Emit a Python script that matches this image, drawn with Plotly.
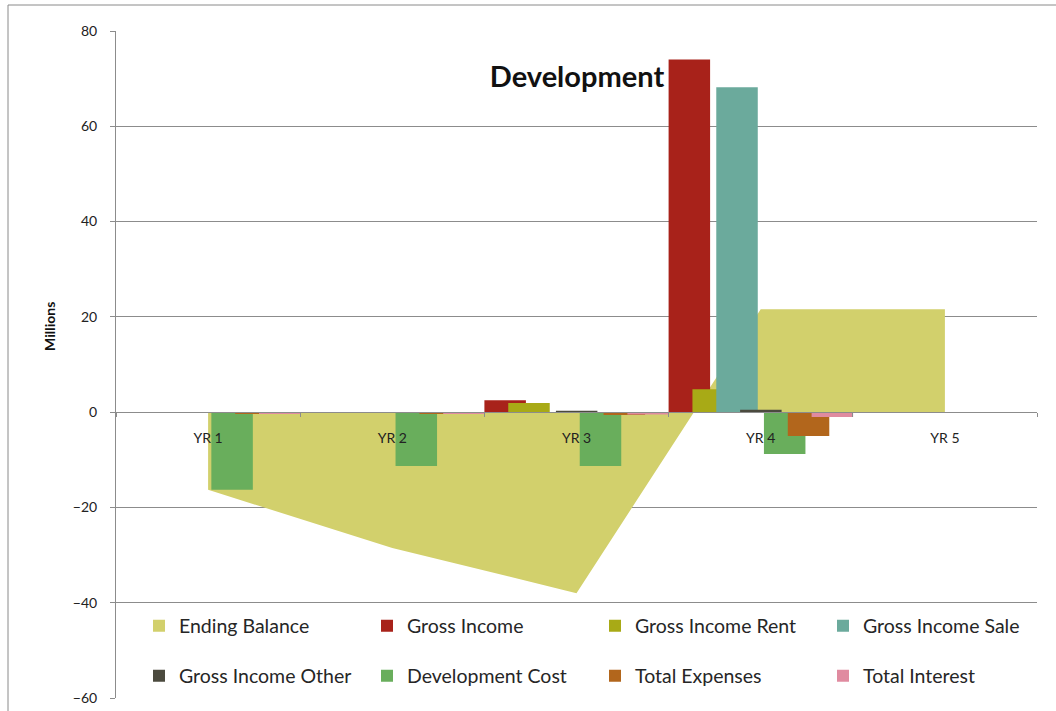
import plotly.graph_objects as go

# Project cash-flow summary by year (values in millions)
years = ["YR 1", "YR 2", "YR 3", "YR 4", "YR 5"]

ending_balance = [-16.3, -28.5, -38.0, 21.6, 21.6]
gross_income = [0, 0, 2.5, 74.0, 0]
gross_income_rent = [0, 0, 1.9, 4.8, 0]
gross_income_sale = [0, 0, 0, 68.2, 0]
gross_income_other = [0, 0, 0.3, 0.5, 0]
development_cost = [-16.3, -11.3, -11.3, -8.8, 0]
total_expenses = [-0.3, -0.3, -0.6, -5.0, 0]
total_interest = [-0.2, -0.3, -0.5, -1.0, 0]

y_ticks = [-60, -40, -20, 0, 20, 40, 60, 80]

AREA_COLOR = "#D2D06C"
bar_series = [
    ("Gross Income", gross_income, "#A8221A", "legend"),
    ("Gross Income Rent", gross_income_rent, "#A8AA16", "legend"),
    ("Gross Income Sale", gross_income_sale, "#6BAA9C", "legend"),
    ("Gross Income Other", gross_income_other, "#4B4A3E", "legend2"),
    ("Development Cost", development_cost, "#69AE5C", "legend2"),
    ("Total Expenses", total_expenses, "#B2661C", "legend2"),
    ("Total Interest", total_interest, "#E08BA0", "legend2"),
]

FONT = "Lato, 'Open Sans', sans-serif"
GRID = "#8C8C8C"

# layout geometry in pixels
W, H = 1056, 711
ML, MR, MT, MB = 116, 19, 31, 13
PW, PH = W - ML - MR, H - MT - MB


def px_x(px):
    return (px - ML) / PW


def px_y(py):
    return (H - MB - py) / PH


fig = go.Figure()

# ending balance drawn as an area on the base axes (behind the bars)
fig.add_trace(go.Scatter(
    x=years, y=ending_balance, name="Ending Balance",
    mode="none", fill="tozeroy", fillcolor=AREA_COLOR,
    showlegend=False, hoverinfo="x+y",
))
# square legend key for the area series
fig.add_trace(go.Bar(
    x=[years[0]], y=[None], name="Ending Balance",
    marker=dict(color=AREA_COLOR, line=dict(width=0)),
    legend="legend", hoverinfo="skip",
))

# overlapping clustered bars on an overlaid axis pair so they sit on top
bar_w = 0.2253
step = 0.1294
for i, (name, vals, color, leg) in enumerate(bar_series):
    fig.add_trace(go.Bar(
        x=years, y=vals, name=name,
        xaxis="x2", yaxis="y2",
        marker=dict(color=color, line=dict(width=0)),
        width=[bar_w] * len(years),
        offset=[-0.5 + i * step] * len(years),
        legend=leg,
    ))

zero_pos = px_y(412)

legend_common = dict(
    orientation="h", x=px_x(139), xanchor="left", yanchor="middle",
    entrywidth=183, entrywidthmode="pixels",
    bgcolor="rgba(255,255,255,0)",
    font=dict(family=FONT, size=19.5, color="#262626"),
    itemclick=False, itemdoubleclick=False,
)

fig.update_layout(
    width=W, height=H,
    margin=dict(l=ML, r=MR, t=MT, b=MB, autoexpand=False),
    paper_bgcolor="white", plot_bgcolor="white",
    barmode="overlay",
    font=dict(family=FONT, color="#222222"),
    title=dict(
        text="<b>Development</b>",
        font=dict(family=FONT, size=29, color="#111111"),
        x=px_x(577), xref="paper", xanchor="center",
        y=1 - 77 / H, yref="container", yanchor="middle",
    ),
    xaxis=dict(
        type="category", categoryorder="array", categoryarray=years,
        range=[-0.5, 4.5],
        anchor="free", position=zero_pos,
        showline=True, linecolor=GRID, linewidth=1,
        ticks="outside", ticklen=4, tickcolor=GRID, tickson="boundaries",
        showgrid=False, zeroline=False,
        tickfont=dict(family=FONT, size=14, color="#222222"),
        ticklabelstandoff=13,
        fixedrange=True,
    ),
    yaxis=dict(
        range=[-60, 80], tickvals=y_ticks,
        showline=True, linecolor=GRID, linewidth=1,
        ticks="outside", ticklen=5, tickcolor=GRID,
        showgrid=True, gridcolor=GRID, gridwidth=1,
        zeroline=False,
        tickfont=dict(family=FONT, size=14, color="#222222"),
        ticklabelstandoff=10,
        fixedrange=True,
    ),
    xaxis2=dict(
        type="category", categoryorder="array", categoryarray=years,
        range=[-0.5, 4.5], overlaying="x", anchor="y2",
        visible=False, fixedrange=True,
    ),
    yaxis2=dict(
        range=[-60, 80], overlaying="y", anchor="x2",
        visible=False, fixedrange=True,
    ),
    legend=dict(legend_common, y=px_y(626)),
    legend2=dict(legend_common, y=px_y(676)),
    annotations=[dict(
        text="<b>Millions</b>", textangle=-90,
        x=px_x(50), y=px_y(327), xref="paper", yref="paper",
        xanchor="center", yanchor="middle", showarrow=False,
        font=dict(family=FONT, size=14, color="#111111"),
    )],
    shapes=[dict(
        type="rect", xref="paper", yref="paper",
        x0=px_x(8), x1=px_x(W + 10), y0=px_y(H + 10), y1=px_y(5),
        line=dict(color="#8A8A8A", width=1), fillcolor="rgba(0,0,0,0)",
        layer="below",
    )],
    showlegend=True,
)

fig.write_html("out.html")
